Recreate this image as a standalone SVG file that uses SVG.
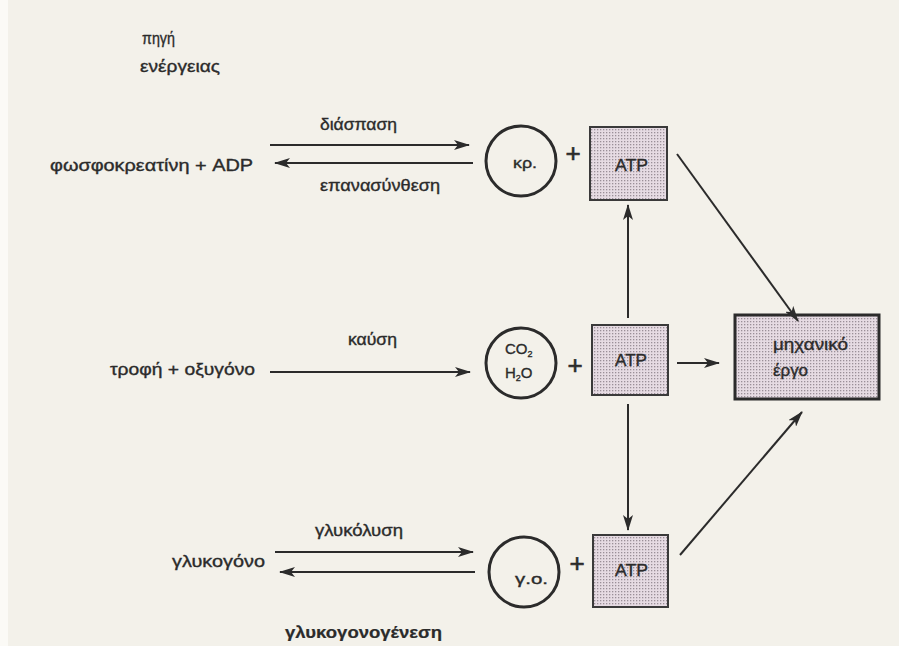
<svg xmlns="http://www.w3.org/2000/svg" width="899" height="646" viewBox="0 0 899 646">
<defs>
<style>
text{font-family:"Liberation Sans",Arial,sans-serif;font-size:16px;fill:#2b2b2b;stroke:#2b2b2b;stroke-width:0.35}
.c{text-anchor:middle}
.ln{stroke:#2b2b2b;stroke-width:2;fill:none}
.circ{stroke:#2b2b2b;stroke-width:3;fill:none}
.box{stroke:#3a3a3a;stroke-width:2;fill:url(#dots)}
.pl{font-size:26px;stroke-width:0.6}
</style>
<pattern id="dots" width="3" height="3" patternUnits="userSpaceOnUse">
<rect width="3" height="3" fill="#e6dbe3"/>
<rect width="1.3" height="1.3" fill="#9a8f98"/>
</pattern>
<marker id="ah" markerWidth="16" markerHeight="10" refX="15" refY="5" orient="auto" markerUnits="userSpaceOnUse">
<path d="M0,0 L16,5 L0,10 L4,5 Z" fill="#2b2b2b"/>
</marker>
</defs>
<rect width="899" height="646" fill="#f3f1ea"/>
<rect width="8" height="646" fill="#fbfaf6"/>

<g id="title">
<text x="142" y="44" textLength="33" lengthAdjust="spacingAndGlyphs">πηγή</text>
<text x="140" y="72" textLength="80" lengthAdjust="spacingAndGlyphs">ενέργειας</text>
</g>

<g id="phosphocreatine"><text x="50" y="171" textLength="203" lengthAdjust="spacingAndGlyphs">φωσφοκρεατίνη + ADP</text></g>
<g id="food"><text x="110" y="375" textLength="145" lengthAdjust="spacingAndGlyphs">τροφή + οξυγόνο</text></g>
<g id="glycogen"><text x="172" y="567" textLength="93" lengthAdjust="spacingAndGlyphs">γλυκογόνο</text></g>

<g id="cr">
<circle class="circ" cx="521" cy="161" r="35"/>
<text x="513" y="168" textLength="24" lengthAdjust="spacingAndGlyphs" style="font-size:14px">κρ.</text>
</g>
<g id="plus1"><text class="c pl" x="573" y="162">+</text></g>
<g id="atp1">
<rect class="box" x="590" y="127" width="77" height="73"/>
<text x="615" y="171" textLength="33" lengthAdjust="spacingAndGlyphs">ATP</text>
</g>

<g id="co2">
<circle class="circ" cx="521" cy="363" r="35"/>
<text x="505" y="354" style="font-size:15px">CO<tspan dy="3" style="font-size:9px">2</tspan></text>
<text x="505" y="378" style="font-size:15px">H<tspan dy="3" style="font-size:9px">2</tspan><tspan dy="-3">O</tspan></text>
</g>
<g id="plus2"><text class="c pl" x="575" y="374">+</text></g>
<g id="atp2">
<rect class="box" x="592" y="325" width="76" height="70"/>
<text x="615" y="366" textLength="32" lengthAdjust="spacingAndGlyphs">ATP</text>
</g>

<g id="go">
<circle class="circ" cx="524" cy="572" r="35"/>
<text x="515" y="584" textLength="33" lengthAdjust="spacingAndGlyphs" style="font-size:14px">γ.ο.</text>
</g>
<g id="plus3"><text class="c pl" x="577" y="572">+</text></g>
<g id="atp3">
<rect class="box" x="593" y="535" width="75" height="72"/>
<text x="615" y="576" textLength="33" lengthAdjust="spacingAndGlyphs">ATP</text>
</g>

<g id="work">
<rect x="735" y="315" width="144" height="84" fill="url(#dots)" stroke="#2b2b2b" stroke-width="3"/>
<text x="773" y="350" textLength="75" lengthAdjust="spacingAndGlyphs">μηχανικό</text>
<text x="773" y="376" textLength="35" lengthAdjust="spacingAndGlyphs">έργο</text>
</g>

<g id="connectors">
<line class="ln" x1="270" y1="145" x2="469" y2="145" marker-end="url(#ah)"/>
<line class="ln" x1="473" y1="163" x2="275" y2="163" marker-end="url(#ah)"/>
<line class="ln" x1="270" y1="372" x2="470" y2="372" marker-end="url(#ah)"/>
<line class="ln" x1="275" y1="552" x2="473" y2="552" marker-end="url(#ah)"/>
<line class="ln" x1="475" y1="572" x2="280" y2="572" marker-end="url(#ah)"/>
<line class="ln" x1="628" y1="318" x2="628" y2="205" marker-end="url(#ah)"/>
<line class="ln" x1="628" y1="404" x2="628" y2="530" marker-end="url(#ah)"/>
<line class="ln" x1="677" y1="363" x2="719" y2="363" marker-end="url(#ah)"/>
<line class="ln" x1="677" y1="154" x2="798" y2="321" marker-end="url(#ah)"/>
<line class="ln" x1="680" y1="555" x2="802" y2="412" marker-end="url(#ah)"/>
</g>

<g id="labels">
<text x="320" y="130" textLength="77" lengthAdjust="spacingAndGlyphs">διάσπαση</text>
<text x="320" y="191" textLength="120" lengthAdjust="spacingAndGlyphs">επανασύνθεση</text>
<text x="348" y="345" textLength="49" lengthAdjust="spacingAndGlyphs">καύση</text>
<text x="315" y="536" textLength="88" lengthAdjust="spacingAndGlyphs">γλυκόλυση</text>
<text x="285" y="638" textLength="157" lengthAdjust="spacingAndGlyphs" style="font-weight:bold;stroke-width:0.2">γλυκογονογένεση</text>
</g>
</svg>
